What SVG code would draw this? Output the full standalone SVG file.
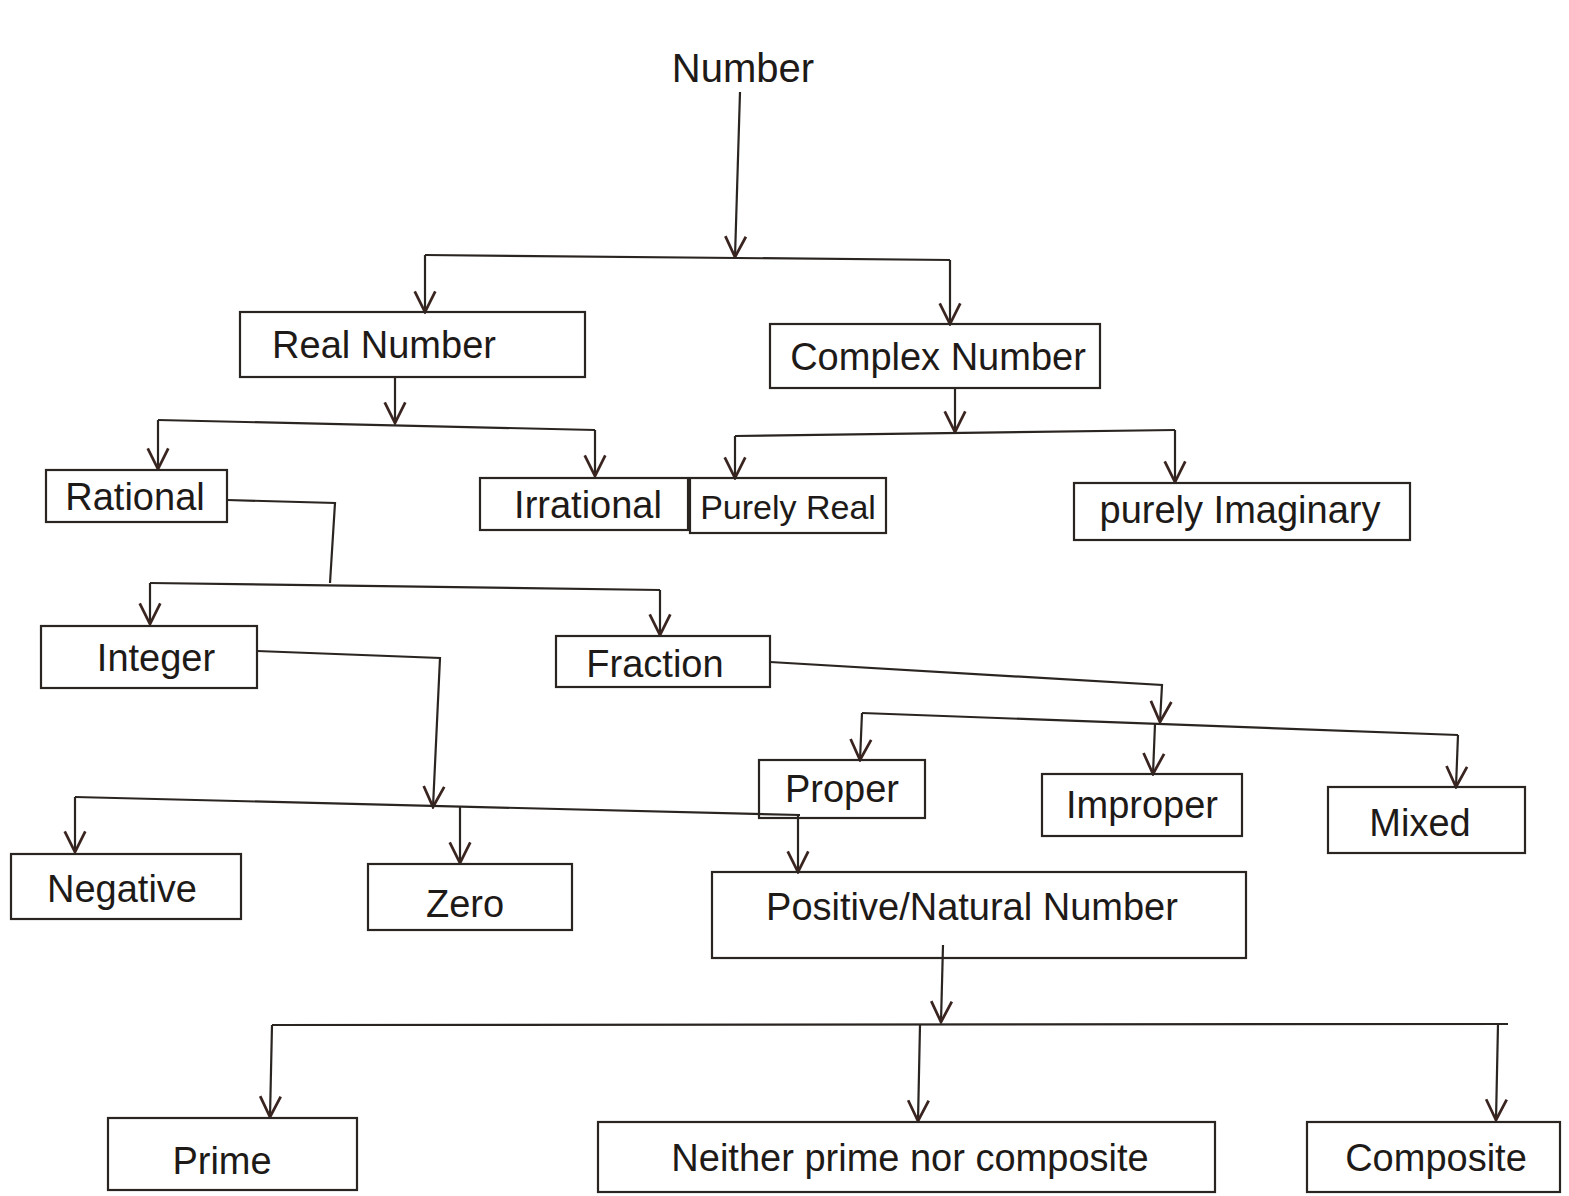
<svg xmlns="http://www.w3.org/2000/svg" width="1569" height="1196" viewBox="0 0 1569 1196">
<style>
.box{fill:none;stroke:#2b2522;stroke-width:2.2}
.lbl{font-family:"Liberation Sans",Arial,sans-serif;font-size:38px;fill:#1e1a18;text-anchor:middle;dominant-baseline:central}
.con{fill:none;stroke:#2b2522;stroke-width:2.2}
.arr{marker-end:url(#ah)}
</style>
<defs>
<marker id="ah" viewBox="0 0 14 14" refX="13" refY="7" markerWidth="10" markerHeight="10" orient="auto" markerUnits="userSpaceOnUse">
<path d="M1,1 L13,7 L1,13" fill="none" stroke="#3a2420" stroke-width="2.2"/>
</marker>
</defs>
<defs>
<marker id="ahb" viewBox="0 0 14 14" refX="13" refY="7" markerWidth="24" markerHeight="24" orient="auto" markerUnits="userSpaceOnUse">
<path d="M1,1 L13,7 L1,13" fill="none" stroke="#3a2420" stroke-width="1.6"/>
</marker>
</defs>
<rect width="1569" height="1196" fill="#ffffff"/>

<g id="connectors">
<path class="con" d="M740,92 L735,257" marker-end="url(#ahb)"/>
<path class="con" d="M425,255 L950,260"/>
<path class="con" d="M425,255 L425,312" marker-end="url(#ahb)"/>
<path class="con" d="M950,260 L950,324" marker-end="url(#ahb)"/>

<path class="con" d="M395,377 L395,423" marker-end="url(#ahb)"/>
<path class="con" d="M158,420 L595,430"/>
<path class="con" d="M158,420 L158,469" marker-end="url(#ahb)"/>
<path class="con" d="M595,430 L595,476" marker-end="url(#ahb)"/>

<path class="con" d="M955,388 L955,432" marker-end="url(#ahb)"/>
<path class="con" d="M735,436 L1175,430"/>
<path class="con" d="M735,436 L735,478" marker-end="url(#ahb)"/>
<path class="con" d="M1175,430 L1175,482" marker-end="url(#ahb)"/>

<path class="con" d="M227,500 L335,503 L330,583"/>
<path class="con" d="M150,583 L660,590"/>
<path class="con" d="M150,583 L150,624" marker-end="url(#ahb)"/>
<path class="con" d="M660,590 L660,635" marker-end="url(#ahb)"/>

<path class="con" d="M257,651 L440,658 L433,807" marker-end="url(#ahb)"/>
<path class="con" d="M75,797 L800,815"/>
<path class="con" d="M75,797 L75,852" marker-end="url(#ahb)"/>
<path class="con" d="M460,806 L460,863" marker-end="url(#ahb)"/>
<path class="con" d="M798,815 L798,872" marker-end="url(#ahb)"/>

<path class="con" d="M770,662 L1162,685 L1160,722" marker-end="url(#ahb)"/>
<path class="con" d="M862,713 L1458,735"/>
<path class="con" d="M862,713 L860,760" marker-end="url(#ahb)"/>
<path class="con" d="M1155,724 L1153,774" marker-end="url(#ahb)"/>
<path class="con" d="M1458,735 L1456,787" marker-end="url(#ahb)"/>

<path class="con" d="M943,945 L941,1022" marker-end="url(#ahb)"/>
<path class="con" d="M272,1025 L1508,1024"/>
<path class="con" d="M272,1025 L270,1117" marker-end="url(#ahb)"/>
<path class="con" d="M920,1025 L918,1121" marker-end="url(#ahb)"/>
<path class="con" d="M1498,1024 L1496,1120" marker-end="url(#ahb)"/>
</g>

<g id="n-number"><text class="lbl" x="743" y="68" style="font-size:40px">Number</text></g>
<g id="n-real"><rect class="box" x="240" y="312" width="345" height="65"/><text class="lbl" x="384" y="345">Real Number</text></g>
<g id="n-complex"><rect class="box" x="770" y="324" width="330" height="64"/><text class="lbl" x="938" y="357">Complex Number</text></g>
<g id="n-rational"><rect class="box" x="46" y="470" width="181" height="52"/><text class="lbl" x="135" y="497">Rational</text></g>
<g id="n-irrational"><rect class="box" x="480" y="478" width="208" height="52"/><text class="lbl" x="588" y="505">Irrational</text></g>
<g id="n-purelyreal"><rect class="box" x="690" y="478" width="196" height="55"/><text class="lbl" x="788" y="507" style="font-size:34px">Purely Real</text></g>
<g id="n-imag"><rect class="box" x="1074" y="483" width="336" height="57"/><text class="lbl" x="1240" y="510">purely Imaginary</text></g>
<g id="n-integer"><rect class="box" x="41" y="626" width="216" height="62"/><text class="lbl" x="156" y="658">Integer</text></g>
<g id="n-fraction"><rect class="box" x="556" y="636" width="214" height="51"/><text class="lbl" x="655" y="664">Fraction</text></g>
<g id="n-proper"><rect class="box" x="759" y="760" width="166" height="58"/><text class="lbl" x="842" y="789">Proper</text></g>
<g id="n-improper"><rect class="box" x="1042" y="774" width="200" height="62"/><text class="lbl" x="1142" y="805">Improper</text></g>
<g id="n-mixed"><rect class="box" x="1328" y="787" width="197" height="66"/><text class="lbl" x="1420" y="823">Mixed</text></g>
<g id="n-negative"><rect class="box" x="11" y="854" width="230" height="65"/><text class="lbl" x="122" y="889">Negative</text></g>
<g id="n-zero"><rect class="box" x="368" y="864" width="204" height="66"/><text class="lbl" x="465" y="904">Zero</text></g>
<g id="n-positive"><rect class="box" x="712" y="872" width="534" height="86"/><text class="lbl" x="972" y="907">Positive/Natural Number</text></g>
<g id="n-prime"><rect class="box" x="108" y="1118" width="249" height="72"/><text class="lbl" x="222" y="1161">Prime</text></g>
<g id="n-neither"><rect class="box" x="598" y="1122" width="617" height="70"/><text class="lbl" x="910" y="1158">Neither prime nor composite</text></g>
<g id="n-composite"><rect class="box" x="1307" y="1122" width="253" height="70"/><text class="lbl" x="1436" y="1158">Composite</text></g>
</svg>
